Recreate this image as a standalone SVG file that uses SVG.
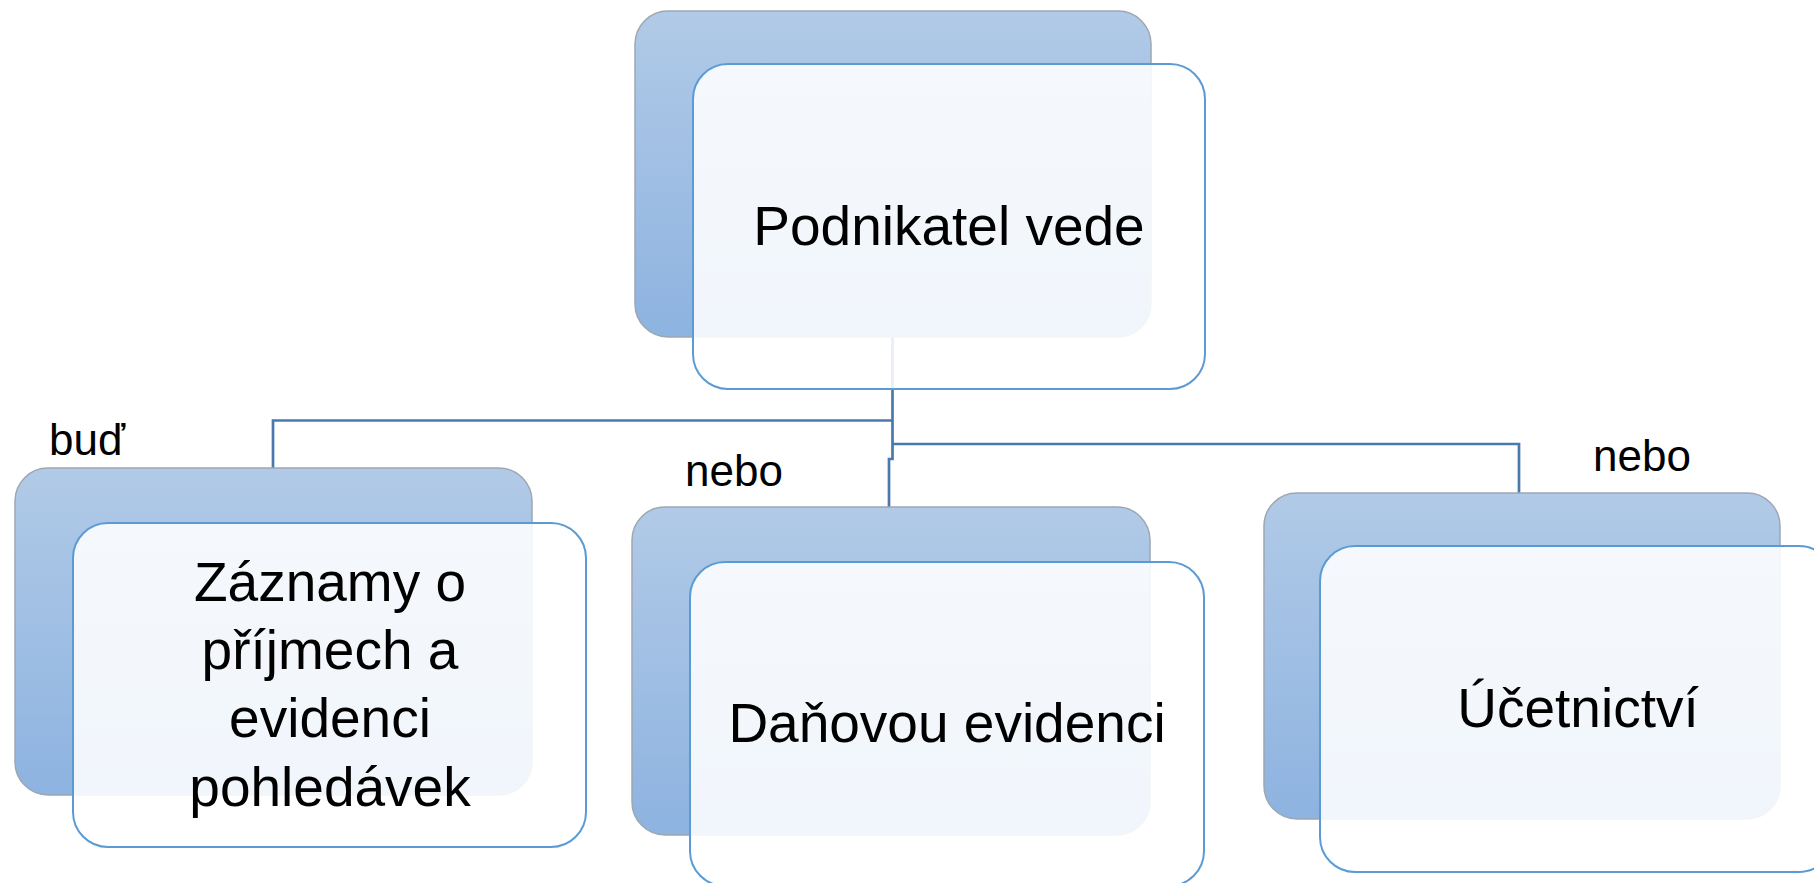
<svg xmlns="http://www.w3.org/2000/svg" width="1814" height="883" viewBox="0 0 1814 883">
<defs>
<linearGradient id="bg" x1="0" y1="0" x2="0" y2="1">
<stop offset="0" stop-color="#b1cae7"/>
<stop offset="1" stop-color="#8db3e0"/>
</linearGradient>
<style>
.back{fill:url(#bg);stroke:#9da7b2;stroke-width:1.5}
.front{fill:#ffffff;fill-opacity:0.88;stroke:#5b9bd5;stroke-width:2}
.t{font-family:"Liberation Sans",Arial,sans-serif;font-size:55px;fill:#000;text-anchor:middle}
.lbl{font-family:"Liberation Sans",Arial,sans-serif;font-size:44px;fill:#000}
.con{fill:none;stroke:#4a79ab;stroke-width:2.7}
</style>
</defs>
<rect width="1814" height="883" fill="#ffffff"/>
<g id="connectors">
<path class="con" d="M892.5 337 V459 H889 V507"/>
<path class="con" d="M892.5 420.5 H273 V468"/>
<path class="con" d="M892.5 444 H1519 V493"/>
</g>
<g id="node-top">
<rect class="back" x="635" y="11" width="516" height="326" rx="33"/>
<rect class="front" x="693" y="64" width="512" height="325" rx="35"/>
<text class="t" x="949" y="245">Podnikatel vede</text>
</g>
<g id="node-zaznamy">
<rect class="back" x="15" y="468" width="517" height="327" rx="33"/>
<rect class="front" x="73" y="523" width="513" height="324" rx="35"/>
<text class="t" x="330" y="601">Záznamy o</text>
<text class="t" x="330" y="669">příjmech a</text>
<text class="t" x="330" y="737">evidenci</text>
<text class="t" x="330" y="806">pohledávek</text>
</g>
<g id="node-danova">
<rect class="back" x="632" y="507" width="518" height="328" rx="33"/>
<rect class="front" x="690" y="562" width="514" height="324" rx="35"/>
<text class="t" x="947" y="742">Daňovou evidenci</text>
</g>
<g id="node-ucetnictvi">
<rect class="back" x="1264" y="493" width="516" height="326" rx="33"/>
<rect class="front" x="1320" y="546" width="514" height="326" rx="35"/>
<text class="t" x="1578" y="727">Účetnictví</text>
</g>
<g id="labels">
<text class="lbl" x="49" y="455">buď</text>
<text class="lbl" x="685" y="486">nebo</text>
<text class="lbl" x="1593" y="471">nebo</text>
</g>
</svg>
